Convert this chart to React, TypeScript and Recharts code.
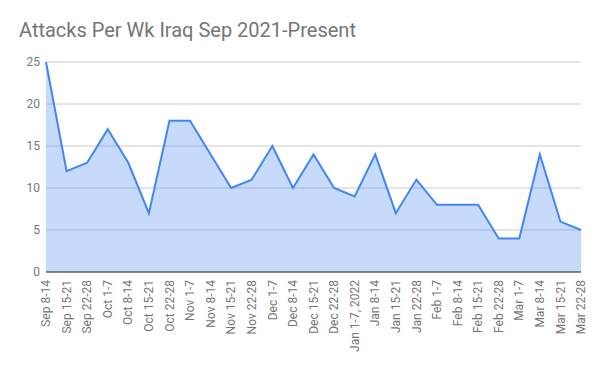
import { AreaChart, Area, XAxis, YAxis, CartesianGrid } from "recharts";

const weeks = [
  "Sep 8-14", "Sep 15-21", "Sep 22-28", "Oct 1-7", "Oct 8-14", "Oct 15-21", "Oct 22-28",
  "Nov 1-7", "Nov 8-14", "Nov 15-21", "Nov 22-28", "Dec 1-7", "Dec 8-14", "Dec 15-21",
  "Dec 22-28", "Jan 1-7, 2022", "Jan 8-14", "Jan 15-21", "Jan 22-28", "Feb 1-7", "Feb 8-14",
  "Feb 15-21", "Feb 22-28", "Mar 1-7", "Mar 8-14", "Mar 15-21", "Mar 22-28",
];

const attacks = [25, 12, 13, 17, 13, 7, 18, 18, 14, 10, 11, 15, 10, 14, 10, 9, 14, 7, 11, 8, 8, 8, 4, 4, 14, 6, 5];

const yTicks = [0, 5, 10, 15, 20, 25];

const data = weeks.map((week, i) => ({ week, attacks: attacks[i] }));

const FONT = "Roboto, Arial, sans-serif";

function WeekTick(props: any) {
  const { x, y, payload } = props;
  return (
    <text
      x={x}
      y={y}
      transform={`rotate(-90, ${x}, ${y})`}
      textAnchor="end"
      dy="0.35em"
      fontSize={12}
      fontFamily={FONT}
      fill="#757575"
    >
      {payload.value}
    </text>
  );
}

export default function App() {
  return (
    <div style={{ position: "fixed", left: 0, top: 0, width: 600, height: 371, background: "#fff" }}>
      <div
        style={{
          position: "absolute",
          left: 19,
          top: 18,
          fontFamily: FONT,
          fontSize: 20,
          color: "#757575",
          whiteSpace: "nowrap",
        }}
      >
        Attacks Per Wk Iraq Sep 2021-Present
      </div>
      <AreaChart width={600} height={371} data={data} margin={{ top: 62, right: 19, left: 0, bottom: 0 }}>
        <CartesianGrid vertical={false} stroke="#cccccc" />
        <XAxis
          dataKey="week"
          interval={0}
          height={99}
          tick={<WeekTick />}
          tickLine={false}
          tickSize={6}
          axisLine={{ stroke: "#333333" }}
        />
        <YAxis
          width={46}
          domain={[0, 25]}
          ticks={yTicks}
          tickLine={false}
          axisLine={false}
          tickSize={0}
          tickMargin={6}
          tick={{ fontSize: 12, fontFamily: FONT, fill: "#757575" }}
        />
        <Area
          type="linear"
          dataKey="attacks"
          stroke="#4285F4"
          strokeWidth={2}
          fill="#4285F4"
          fillOpacity={0.3}
          isAnimationActive={false}
          dot={false}
          activeDot={false}
        />
      </AreaChart>
    </div>
  );
}
